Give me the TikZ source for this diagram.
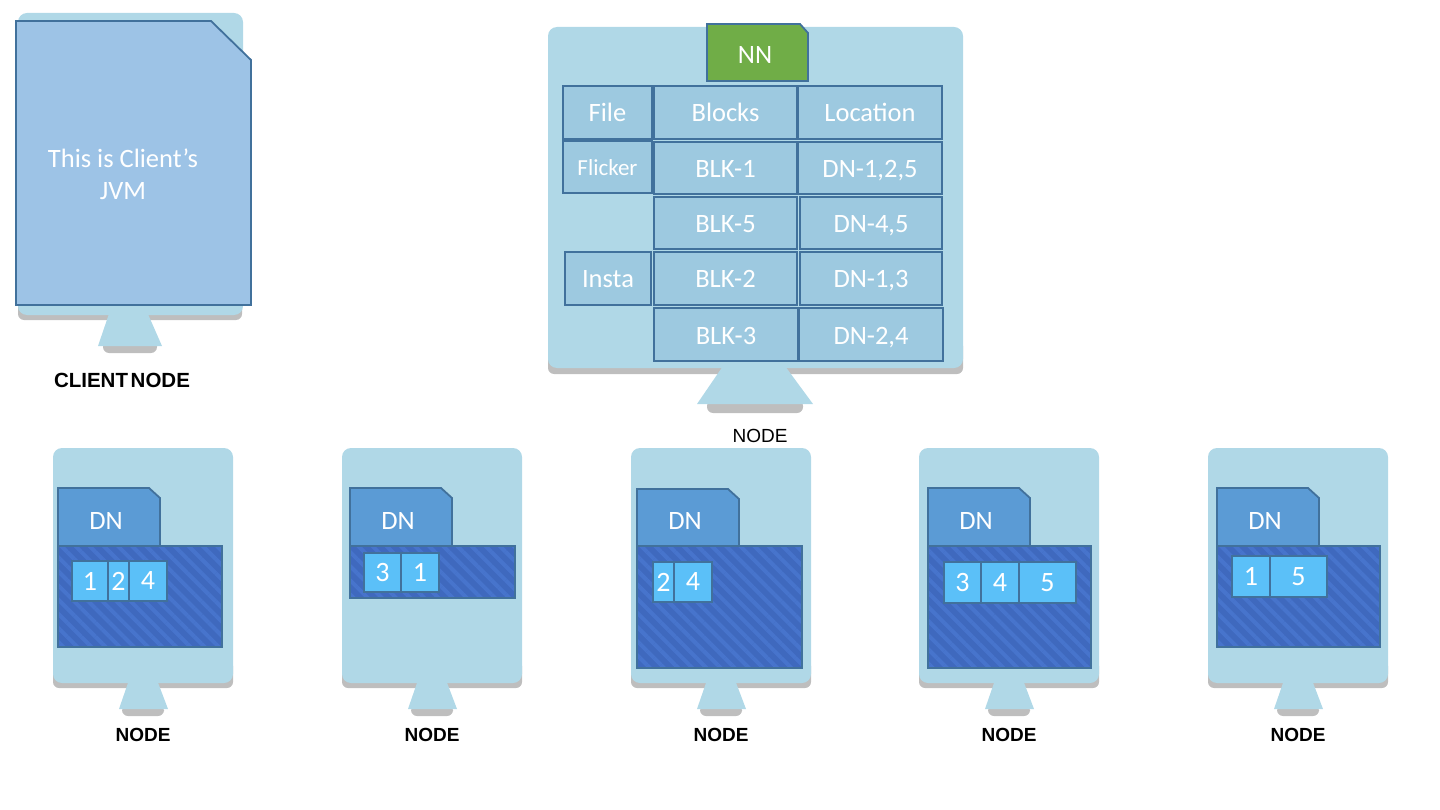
\documentclass[tikz,border=0pt]{standalone}
\usepackage{fontspec}
\setmainfont{Carlito}
\newfontfamily\labelfont{Liberation Sans}
\usetikzlibrary{patterns.meta}

\definecolor{screen}{HTML}{B0D8E7}
\definecolor{screenshadow}{HTML}{BEBEBE}
\definecolor{edgeblue}{HTML}{41719C}
\definecolor{tablecol}{HTML}{9DC9E0}
\definecolor{jvmcol}{HTML}{9DC3E6}
\definecolor{tabcol}{HTML}{5B9BD5}
\definecolor{storecol}{HTML}{3F69BE}
\definecolor{stripecol}{HTML}{4774CC}
\definecolor{blockcol}{HTML}{5BC0F8}
\definecolor{nncol}{HTML}{70AD47}

\tikzset{
	monitor/.style = {fill = screen, rounded corners = 9pt},
	monitorshadow/.style = {fill = screenshadow, rounded corners = 6pt},
	tablecell/.style = {draw = edgeblue, line width = 1.8pt, fill = tablecol, text = white, text height = 21pt, text depth = 2pt, font = \fontsize{26.5}{26.5}\selectfont},
	blockcell/.style = {draw = edgeblue, line width = 1.8pt, fill = blockcol, text = white, font = \fontsize{28}{28}\selectfont},
	dntab/.style = {draw = edgeblue, line width = 1.8pt, fill = tabcol},
	dnstore/.style = {draw = edgeblue, line width = 1.8pt, preaction = {fill = storecol}, pattern = {Lines[angle = -45, distance = 10pt, line width = 4pt]}, pattern color = stripecol},
	whitetext/.style = {text = white, font = \fontsize{26.5}{26.5}\selectfont},
	nodelabel/.style = {font = \labelfont\bfseries\fontsize{19}{19}\selectfont}
}

\begin{document}
\begin{tikzpicture}[x = 1pt, y = -1pt]
	\useasboundingbox (0, 0) rectangle (1440, 810);
	
	% client
	\fill[monitorshadow] (18, 290) rectangle (242, 320);
	\fill[monitorshadow] (103, 340) rectangle (157, 353);
	\fill[monitor] (18, 13) rectangle (243, 315);
	\fill[screen] (112, 305) -- (144, 305) -- (162, 346) -- (98, 346) -- cycle;
	\draw[line width = 1.8pt, draw = edgeblue, fill = jvmcol] (16, 21) -- (211, 21) -- (251, 60) -- (251, 305) -- (16, 305) -- cycle;
	\node[whitetext, align = center] (jvm) at (123, 174) {This is Client's\\[5pt]JVM};
	\node[nodelabel, font = \labelfont\bfseries\fontsize{20.5}{20.5}\selectfont] (clientlabel) at (122, 380) {CLIENT\hspace{-3pt} NODE};
	
	% name node
	\fill[monitorshadow] (548, 340) rectangle (963, 374);
	\fill[monitorshadow] (707, 400) rectangle (803, 413);
	\fill[monitor] (548, 27) rectangle (963, 368);
	\fill[screen] (723, 366) -- (785, 366) -- (813, 404) -- (697, 404) -- cycle;
	\draw[line width = 1.8pt, draw = edgeblue, fill = nncol] (707, 24) -- (800, 24) -- (808, 33) -- (808, 81) -- (707, 81) -- cycle;
	\node[whitetext] (nn) at (755, 55) {NN};
	
	\foreach \name/\xa/\ya/\xb/\yb/\txt in {
		file/563/86/652/139/File, insta/565/252/651/305/Insta,
		blocks/654/86/797/139/Blocks, location/798/86/942/139/Location,
		blka/654/142/797/194/BLK-1, dna/798/142/942/194/{DN-1,2,5},
		blkb/654/197/797/249/BLK-5, dnb/800/197/942/249/{DN-4,5},
		blkc/654/252/797/305/BLK-2, dnc/800/252/942/305/{DN-1,3},
		blkd/654/308/798/361/BLK-3, dnd/799/308/943/361/{DN-2,4}}
	\draw[tablecell] (\xa, \ya) rectangle node (\name) {\txt} (\xb, \yb);
	\draw[tablecell, text height = 19pt, font = \fontsize{23}{23}\selectfont] (563, 141) rectangle node (flicker) {Flicker} (652, 193);
	\node[nodelabel, font = \labelfont\fontsize{19}{19}\selectfont] (nnlabel) at (760, 436) {NODE};
	
	% data nodes
	\foreach \i/\mx/\tx/\ty/\sr/\sb in {1/53/58/488/222/647, 2/342/350/488/515/598, 3/631/637/489/802/668, 4/919/928/488/1091/668, 5/1208/1217/488/1380/647} {
		\fill[monitorshadow] (\mx, 660) rectangle (\mx + 180, 688);
		\fill[monitorshadow] (\mx + 69, 705) rectangle (\mx + 111, 716);
		\fill[monitor] (\mx, 448) rectangle (\mx + 180, 683);
		\fill[screen] (\mx + 76, 680) -- (\mx + 104, 680) -- (\mx + 115, 709) -- (\mx + 66, 709) -- cycle;
		\draw[dntab] (\tx, \ty) -- (\tx + 91, \ty) -- (\tx + 102, \ty + 10) -- (\tx + 102, 546) -- (\tx, 546) -- cycle;
		\node[whitetext] (dn\i) at (\tx + 48, 520.5) {DN};
		\draw[dnstore] (\tx, 546) rectangle (\sr, \sb);
		\node[nodelabel] (label\i) at (\mx + 90, 735) {NODE};
	}
	
	% blocks
	\foreach \name/\xa/\ya/\xb/\yb/\txt in {
		aa/72/561/108/601/1, ab/108/561/129/601/2, ac/129/561/167/601/4,
		ba/364/553/401/592/3, bb/401/553/439/592/1,
		ca/653/562/674/602/2, cb/674/562/712/602/4,
		da/944/562/981/603/3, db/981/562/1019/603/4, dc/1019/562/1076/603/5,
		ea/1232/556/1270/597/1, eb/1270/556/1327/597/5}
	\draw[blockcell] (\xa, \ya) rectangle node (\name) {\txt} (\xb, \yb);
\end{tikzpicture}
\end{document}
